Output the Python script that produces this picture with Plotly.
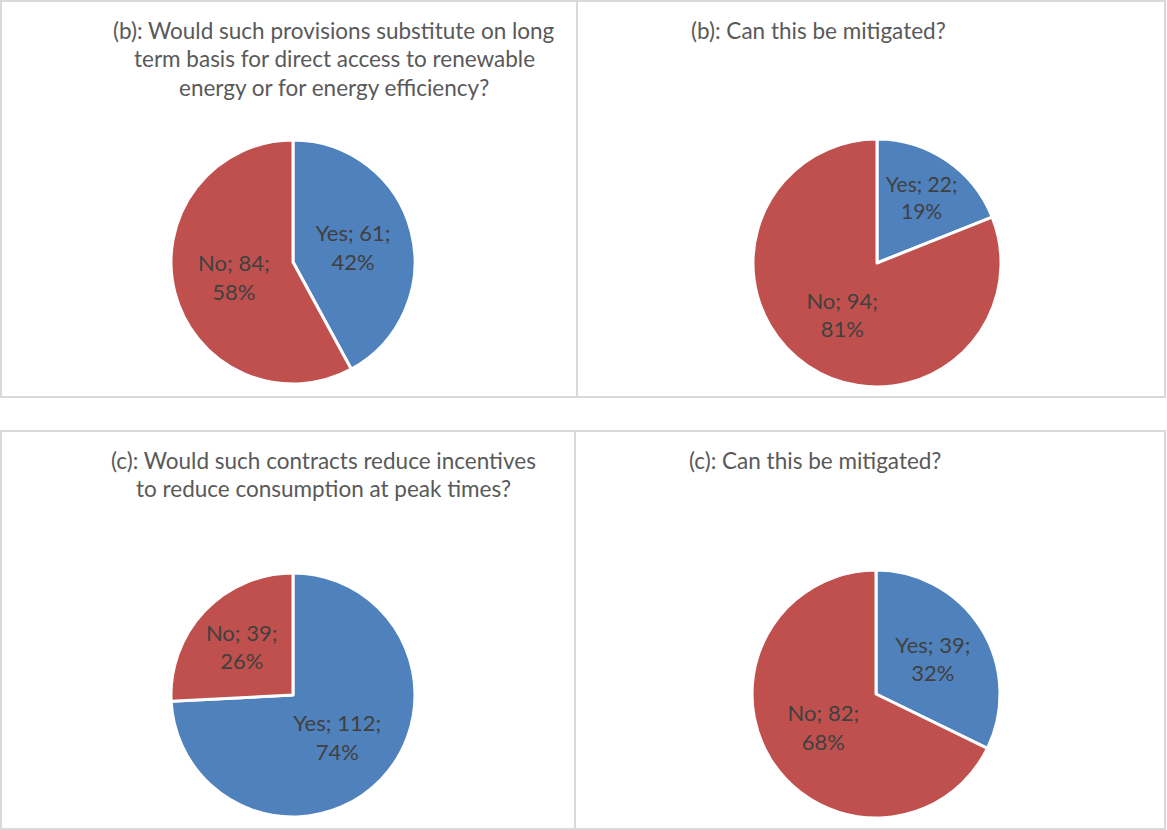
import plotly.graph_objects as go

labels = ["Yes", "No"]
values_b1 = [61, 84]
values_b2 = [22, 94]
values_c1 = [112, 39]
values_c2 = [39, 82]

title_b1 = ["(b): Would such provisions substitute on long",
            "term basis for direct access to renewable",
            "energy or for energy efficiency?"]
title_b2 = ["(b): Can this be mitigated?"]
title_c1 = ["(c): Would such contracts reduce incentives",
            "to reduce consumption at peak times?"]
title_c2 = ["(c): Can this be mitigated?"]

colors = ["#4F81BD", "#C0504D"]
W, H = 1167, 830
FONT = "Lato"


def px_x(x):
    return x / W


def px_y(y):
    return 1 - y / H


def dom(cx, cy, r):
    return dict(x=[px_x(cx - r), px_x(cx + r)], y=[px_y(cy + r), px_y(cy - r)])


fig = go.Figure()
pies = [
    (values_b1, dom(293, 262, 122)),
    (values_b2, dom(877, 263, 124)),
    (values_c1, dom(293, 695, 122)),
    (values_c2, dom(876, 694, 124)),
]
for vals, d in pies:
    fig.add_trace(go.Pie(
        labels=labels, values=vals, domain=d, sort=False, direction="clockwise",
        rotation=0, marker=dict(colors=colors, line=dict(color="white", width=3)),
        textinfo="label+value+percent", texttemplate="%{label}; %{value};<br>%{percent:.0%}",
        textposition="inside", insidetextorientation="horizontal",
        textfont=dict(family=FONT, size=22, color="#404040"),
        hoverinfo="label+value+percent", showlegend=False,
    ))

annotations = []


def add_title(lines, cx, y0, step=28.5):
    for i, t in enumerate(lines):
        annotations.append(dict(
            text=t, x=px_x(cx), y=px_y(y0 + i * step), xref="paper", yref="paper",
            xanchor="center", yanchor="middle", showarrow=False,
            font=dict(family=FONT, size=22.5, color="#595959"),
        ))


add_title(title_b1, 334, 30)
add_title(title_b2, 818, 30)
add_title(title_c1, 323, 460)
add_title(title_c2, 815, 460)

border = "#D9D9D9"
shapes = []
for (x0, y0, x1, y1) in [(1, 1, 577, 397), (577, 1, 1165, 397),
                         (1, 431, 575, 829), (575, 431, 1165, 829)]:
    shapes.append(dict(type="rect", xref="paper", yref="paper",
                       x0=px_x(x0), x1=px_x(x1), y0=px_y(y1), y1=px_y(y0),
                       line=dict(color=border, width=2), fillcolor="rgba(0,0,0,0)"))

fig.update_layout(
    width=W, height=H, margin=dict(l=0, r=0, t=0, b=0),
    paper_bgcolor="white", plot_bgcolor="white",
    annotations=annotations, shapes=shapes,
    font=dict(family=FONT),
)

fig.write_html("out.html", config={"displayModeBar": False},
               post_script="document.body.style.margin='0';document.body.style.overflow='hidden';")
